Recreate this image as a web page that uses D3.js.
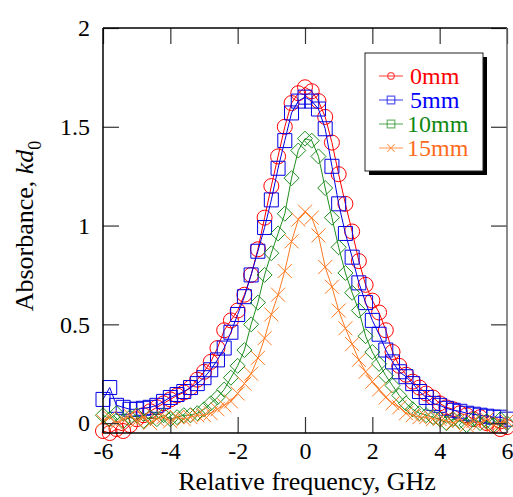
<!DOCTYPE html>
<html>
<head>
<meta charset="utf-8">
<script src="https://cdn.jsdelivr.net/npm/d3@7"></script>
<style>
  body { margin: 0; background: #fff; }
  svg { display: block; font-family: "Liberation Serif", "Times New Roman", Times, serif; }
</style>
</head>
<body>
<div id="chart"></div>
<script>
// relative frequency grid (GHz)
const freq = [-6,-5.8,-5.6,-5.4,-5.2,-5,-4.8,-4.6,-4.4,-4.2,-4,-3.8,-3.6,-3.4,-3.2,-3,-2.8,-2.6,-2.4,-2.2,-2,-1.8,-1.6,-1.4,-1.2,-1,-0.8,-0.6,-0.4,-0.2,
  0,0.2,0.4,0.6,0.8,1,1.2,1.4,1.6,1.8,2,2.2,2.4,2.6,2.8,3,3.2,3.4,3.6,3.8,4,4.2,4.4,4.6,4.8,5,5.2,5.4,5.6,5.8,6];

// absorbance kd0 per position
const abs0mm = [-0.04,-0.05,-0.03,-0.04,-0.01,0.02,0.04,0.06,0.08,0.10,0.12,0.14,0.155,0.18,0.22,0.26,0.31,0.38,0.47,0.52,0.57,0.65,0.75,0.88,1.04,1.20,1.35,1.50,1.62,1.67,
  1.70,1.68,1.63,1.55,1.42,1.26,1.11,0.97,0.82,0.70,0.62,0.56,0.47,0.36,0.29,0.245,0.21,0.18,0.15,0.13,0.10,0.08,0.07,0.05,0.04,0.02,0.03,0,-0.01,-0.03,-0.02];
const abs5mm = [0.12,0.18,0.09,0.08,0.07,0.07,0.075,0.08,0.09,0.11,0.13,0.145,0.16,0.18,0.20,0.23,0.27,0.32,0.38,0.46,0.55,0.64,0.75,0.87,0.99,1.13,1.29,1.43,1.57,1.63,
  1.65,1.63,1.59,1.49,1.30,1.11,0.96,0.84,0.71,0.61,0.52,0.45,0.37,0.31,0.26,0.235,0.20,0.16,0.13,0.10,0.09,0.075,0.065,0.06,0.05,0.045,0.04,0.035,0.03,0.03,0.02];
const abs10mm = [0.04,0.02,0.05,0.01,0.03,0.04,0.01,0.03,0.02,0.04,0.02,0.03,0.04,0.04,0.05,0.07,0.10,0.13,0.17,0.23,0.29,0.37,0.50,0.61,0.75,0.86,0.96,1.06,1.24,1.38,
  1.44,1.43,1.35,1.19,1.04,0.89,0.76,0.66,0.57,0.44,0.36,0.30,0.24,0.19,0.14,0.10,0.07,0.05,0.04,0.03,0.02,0,0.02,0.01,-0.01,0.02,0,0.01,-0.01,0.02,0];
const abs15mm = [0.01,0.03,0,0.02,0.04,0.01,0.03,0,0.02,0.03,0.01,0.03,0.02,0.03,0.04,0.04,0.05,0.07,0.09,0.11,0.15,0.20,0.25,0.33,0.43,0.55,0.65,0.77,0.92,1.03,
  1.07,1.04,0.95,0.79,0.69,0.57,0.48,0.40,0.32,0.26,0.21,0.17,0.13,0.10,0.08,0.05,0.04,0.03,0.03,0.02,0.02,0.01,0,0.02,-0.01,0.01,0,0.02,-0.01,0,0.01];

const seriesNames = ["0mm", "5mm", "10mm", "15mm"];
const xTicks = [-6, -4, -2, 0, 2, 4, 6];
const yTicks = [0, 0.5, 1, 1.5, 2];

const series = [
  { name: seriesNames[0], values: abs0mm, color: "#ff0000", text: "#ff0000", shape: "circle" },
  { name: seriesNames[1], values: abs5mm, color: "#0000e6", text: "#0000ff", shape: "square" },
  { name: seriesNames[2], values: abs10mm, color: "#1f8f1f", text: "#118811", shape: "diamond" },
  { name: seriesNames[3], values: abs15mm, color: "#ff7a22", text: "#ff6a1a", shape: "times" }
];

const W = 513, H = 497;
const svg = d3.select("#chart").append("svg").attr("width", W).attr("height", H);

const x = d3.scaleLinear().domain([-6, 6]).range([103, 507]);
const y = d3.scaleLinear().domain([-0.05, 2]).range([433, 28]);

function marker(shape, s) {
  const p = d3.path();
  if (shape === "circle") {
    p.moveTo(s, 0); p.arc(0, 0, s, 0, 2 * Math.PI);
  } else if (shape === "square") {
    p.rect(-s, -s, 2 * s, 2 * s);
  } else if (shape === "diamond") {
    p.moveTo(0, -s); p.lineTo(s, 0); p.lineTo(0, s); p.lineTo(-s, 0); p.closePath();
  } else {
    p.moveTo(-s, -s); p.lineTo(s, s); p.moveTo(-s, s); p.lineTo(s, -s);
  }
  return p.toString();
}
const markerSize = { circle: 7.5, square: 7, diamond: 7.5, times: 7 };

const plot = svg.append("g");
const line = d3.line().x((d, i) => x(freq[i])).y(d => y(d));

series.forEach(s => {
  const g = plot.append("g");
  g.append("path")
    .datum(s.values)
    .attr("fill", "none")
    .attr("stroke", s.color)
    .attr("stroke-width", 1)
    .attr("d", line);
  g.selectAll("path.pt")
    .data(s.values)
    .enter()
    .append("path")
    .attr("class", "pt")
    .attr("transform", (d, i) => `translate(${x(freq[i])},${y(d)})`)
    .attr("d", marker(s.shape, markerSize[s.shape]))
    .attr("fill", "none")
    .attr("stroke", s.color)
    .attr("stroke-width", 1);
});

// axes with inward ticks
const fmt = d => String(d);
const axB = svg.append("g").attr("transform", "translate(0,433)")
  .call(d3.axisBottom(x).tickValues(xTicks).tickSize(-16).tickPadding(9).tickFormat(fmt));
const axT = svg.append("g").attr("transform", "translate(0,28)")
  .call(d3.axisTop(x).tickValues(xTicks).tickSize(-16).tickFormat(""));
const axL = svg.append("g").attr("transform", "translate(103,0)")
  .call(d3.axisLeft(y).tickValues(yTicks).tickSize(-16).tickPadding(13).tickFormat(fmt));
const axR = svg.append("g").attr("transform", "translate(507,0)")
  .call(d3.axisRight(y).tickValues(yTicks).tickSize(-16).tickFormat(""));

[axB, axT, axL, axR].forEach(a => {
  a.attr("font-family", null);
  a.select(".domain").remove();
  a.selectAll(".tick line").attr("stroke", "#333").attr("stroke-width", 1.2);
  a.selectAll(".tick text").attr("fill", "#000").style("font-size", "24px");
});

// frame
svg.append("line").attr("x1", 103).attr("x2", 507).attr("y1", 28).attr("y2", 28).attr("stroke", "#000").attr("stroke-width", 1.5);
svg.append("line").attr("x1", 103).attr("x2", 103).attr("y1", 28).attr("y2", 433).attr("stroke", "#000").attr("stroke-width", 1.5);
svg.append("line").attr("x1", 103).attr("x2", 507).attr("y1", 433).attr("y2", 433).attr("stroke", "#000").attr("stroke-width", 1.5);
svg.append("line").attr("x1", 507).attr("x2", 507).attr("y1", 28).attr("y2", 433).attr("stroke", "#666").attr("stroke-width", 1.5);

// axis titles
svg.append("text")
  .attr("x", 307).attr("y", 490)
  .attr("text-anchor", "middle")
  .style("font-size", "26px")
  .text("Relative frequency, GHz");

const yt = svg.append("text")
  .attr("transform", "translate(33,226) rotate(-90)")
  .attr("text-anchor", "middle")
  .style("font-size", "26px");
yt.append("tspan").text("Absorbance, ");
yt.append("tspan").style("font-style", "italic").text("kd");
yt.append("tspan").attr("dy", 8).style("font-size", "18px").text("0");

// legend
const lg = svg.append("g");
lg.append("rect").attr("x", 369).attr("y", 57).attr("width", 118).attr("height", 118).attr("fill", "#000");
lg.append("rect").attr("x", 365).attr("y", 53).attr("width", 118).attr("height", 118)
  .attr("fill", "#fff").attr("stroke", "#222").attr("stroke-width", 1);

series.forEach((s, i) => {
  const cy = 76 + i * 24;
  lg.append("line").attr("x1", 379).attr("x2", 403).attr("y1", cy).attr("y2", cy)
    .attr("stroke", s.color).attr("stroke-opacity", 0.65).attr("stroke-width", 1.2);
  lg.append("path")
    .attr("transform", `translate(391,${cy})`)
    .attr("d", marker(s.shape === "diamond" ? "square" : s.shape, s.shape === "circle" ? 3.3 : 3.8))
    .attr("fill", "none").attr("stroke", s.color).attr("stroke-opacity", 0.65).attr("stroke-width", 1.2);
  lg.append("text")
    .attr("x", i < 2 ? 410 : 407).attr("y", cy + 8)
    .style("font-size", "24px")
    .attr("fill", s.text)
    .text(s.name);
});
</script>
</body>
</html>
